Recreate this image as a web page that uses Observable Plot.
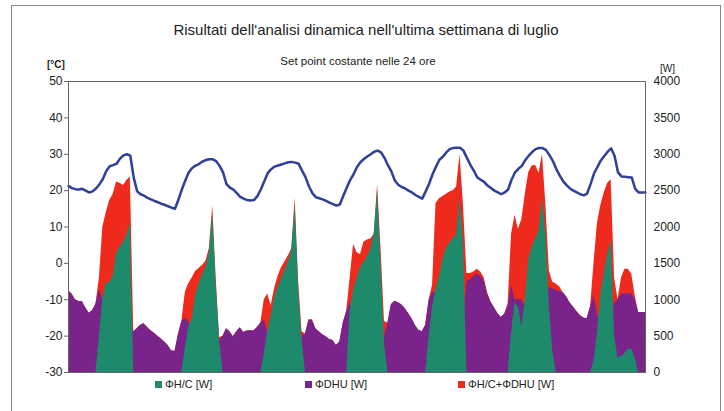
<!DOCTYPE html>
<html><head><meta charset="utf-8">
<script src="https://cdn.jsdelivr.net/npm/d3@7"></script>
<script src="https://cdn.jsdelivr.net/npm/@observablehq/plot@0.6"></script>
<style>
body{margin:0;background:#fff;font-family:"Liberation Sans",Arial,sans-serif;}
#wrap{position:relative;width:724px;height:411px;overflow:hidden;background:#fff;}
#frame{position:absolute;left:11px;top:5px;width:708px;height:430px;border:1px solid #888;}
#chart{position:absolute;left:0;top:0;}
.t{position:absolute;white-space:nowrap;color:#222;line-height:1;}
.sw{display:inline-block;width:7px;height:7px;margin-right:3px;vertical-align:0px;}
</style></head><body>
<div id="wrap">
<div id="frame"></div>
<div id="chart"></div>
<div class="t" style="left:0;width:732px;top:22px;text-align:center;font-size:15px">Risultati dell'analisi dinamica nell'ultima settimana di luglio</div>
<div class="t" style="left:0;width:716px;top:56px;text-align:center;font-size:11.5px">Set point costante nelle 24 ore</div>
<div class="t" style="left:47px;top:60px;font-size:10px;font-weight:bold">[°C]</div>
<div class="t" style="left:660px;top:64px;font-size:10px">[W]</div>
<div class="t" id="legend" style="left:0;top:379px;font-size:11px;width:724px;height:14px"></div>
</div>
<script>
// Hourly data for the last week of July (hour 0..168)
const hours = d3.range(169);

// Indoor temperature [°C] (left axis)
const temperature = [
  21.3,20.7,20.4,20.3,20.5,20.0,19.5,19.8,20.6,21.7,23.2,25.4,26.7,27.0,27.4,28.8,29.7,30.0,29.6,23.5,19.8,19.0,18.6,18.0,
  17.6,17.2,16.8,16.4,16.1,15.7,15.3,15.0,17.5,20.3,22.8,25.0,26.2,26.9,27.3,28.0,28.4,28.6,28.6,28.1,26.8,25.0,21.8,20.8,
  20.3,19.3,18.3,17.8,17.4,17.3,17.4,18.5,20.3,22.6,24.8,25.9,26.6,26.9,27.2,27.5,27.8,27.9,27.7,27.4,25.5,23.7,21.2,19.3,
  18.2,17.9,17.6,17.2,16.7,16.3,15.9,16.2,18.5,20.8,22.9,24.5,26.5,27.8,28.7,29.4,30.0,30.7,31.0,30.5,29.0,27.0,25.3,22.8,
  21.6,21.0,20.6,20.0,19.5,18.8,18.3,17.8,19.8,21.9,24.5,26.6,28.5,29.3,30.5,31.4,31.7,31.8,31.8,31.0,29.0,27.1,25.5,23.7,
  23.0,22.4,21.4,20.7,20.0,19.5,19.0,19.5,20.3,23.0,25.0,26.0,26.8,28.4,29.6,30.6,31.4,31.7,31.7,31.2,29.8,28.2,26.0,24.2,
  22.6,21.5,20.6,20.0,19.5,19.0,18.7,19.2,21.8,24.7,26.5,28.3,29.5,30.7,31.6,29.5,25.0,23.9,23.8,23.7,23.6,20.5,19.5,19.5,19.5
];

// ΦH/C [W]
const phiHC = [
  0,0,0,0,0,0,0,0,0,500,1000,1220,1240,1320,1630,1725,1790,1880,2060,0,0,0,0,0,
  0,0,0,0,0,0,0,0,0,0,330,620,740,1050,1220,1340,1450,1640,2200,1200,450,0,0,0,
  0,0,0,0,0,0,0,0,0,250,560,780,1020,1170,1280,1400,1520,1660,2300,1150,450,0,0,0,
  0,0,0,0,0,0,0,0,0,0,850,1130,1290,1440,1510,1590,1690,1900,2500,1500,400,0,0,0,
  0,0,0,0,0,0,0,0,0,500,900,1140,1310,1550,1700,1780,1830,1900,2400,1750,0,0,0,0,
  0,0,0,0,0,0,0,0,0,550,950,900,630,1000,1550,1720,1830,1950,2400,1900,900,300,0,0,
  0,0,0,0,0,0,0,0,0,150,540,1080,1350,1640,1813,500,200,220,260,320,320,200,0,0,0
];

// ΦDHU [W]
const phiDHU = [
  1124,1078,1000,975,975,890,815,850,940,1140,1000,1000,1000,1000,1000,900,800,750,650,560,600,650,670,620,
  575,540,500,460,420,370,300,290,520,700,750,700,550,400,300,200,150,150,200,300,440,500,600,560,
  490,560,615,550,570,575,572,620,680,720,550,400,300,250,200,150,100,100,100,200,500,530,720,720,
  600,560,520,490,455,440,370,420,680,840,960,600,350,180,280,230,150,100,100,200,500,680,930,980,
  960,930,880,810,740,645,580,560,650,990,1100,1100,1000,900,780,700,670,650,600,700,1250,1270,1320,1354,
  1320,1260,1080,970,890,810,756,800,900,1200,1000,1000,1000,900,800,700,600,600,600,800,1170,1150,1130,1110,
  1100,1040,960,900,840,785,750,740,900,1055,800,700,700,700,800,950,1000,1078,1078,1078,1078,1000,825,825,825
];

// ΦH/C+ΦDHU [W]
const phiTotal = [
  1124,1078,1000,975,975,890,815,850,940,1300,2000,2200,2365,2450,2618,2600,2570,2640,2690,560,600,650,670,620,
  575,540,500,460,420,370,300,290,520,700,1100,1220,1300,1390,1430,1470,1530,1700,2290,1300,480,500,600,560,
  490,560,615,550,570,575,572,620,680,1000,1080,920,1150,1320,1440,1520,1600,1700,2400,1250,560,530,720,720,
  600,560,520,490,455,440,370,420,680,840,1300,1760,1650,1620,1790,1820,1836,1900,2580,1700,700,680,930,980,
  960,930,880,810,740,645,580,560,650,1000,1200,2320,2390,2420,2450,2480,2500,2550,3000,2300,1360,1360,1380,1420,
  1380,1307,1100,970,890,810,756,800,950,1900,2160,1970,2100,2450,2750,2840,2848,2740,3000,2300,1400,1240,1216,1180,
  1100,1040,960,900,840,785,750,740,900,1500,2050,2300,2470,2600,2650,1300,1000,1300,1420,1420,1350,1050,825,825,825
];

const wTicks = [0,500,1000,1500,2000,2500,3000,3500,4000];
const seriesNames = ["ΦH/C [W]", "ΦDHU [W]", "ΦH/C+ΦDHU [W]"];
const seriesColors = ["#1d8a6c", "#7a238b", "#ee2a1c"];
const lineColor = "#2f3f9e";

const rows = hours.map((h, i) => ({h, t: temperature[i], hc: phiHC[i], dhu: phiDHU[i], tot: phiTotal[i]}));
// secondary axis: °C  <->  W  (−30 °C ↔ 0 W, 50 °C ↔ 4000 W)
const cToW = c => (c + 30) * 50;
const wToC = w => w / 50 - 30;

const chart = Plot.plot({
  width: 724, height: 411,
  marginLeft: 68, marginRight: 79, marginTop: 81, marginBottom: 39,
  style: {fontFamily: "'Liberation Sans', Arial, sans-serif", fontSize: "12px", color: "#222", background: "transparent"},
  x: {domain: [0, 168], axis: null},
  y: {domain: [0, 4000], axis: null},
  marks: [
    Plot.areaY(rows, {x: "h", y: "tot", fill: seriesColors[2]}),
    Plot.areaY(rows, {x: "h", y: "dhu", fill: seriesColors[1]}),
    Plot.areaY(rows, {x: "h", y: "hc", fill: seriesColors[0]}),
    Plot.line(rows, {x: "h", y: d => cToW(d.t), stroke: lineColor, strokeWidth: 2.5}),
    Plot.frame({stroke: "#666"}),
    Plot.axisY({anchor: "left", ticks: wTicks, tickFormat: w => String(wToC(w)), tickSize: 4, tickPadding: 2, label: null, stroke: "#666"}),
    Plot.axisY({anchor: "right", ticks: wTicks, tickFormat: w => String(w), tickSize: 0, tickPadding: 8, label: null})
  ]
});
document.getElementById("chart").appendChild(chart);

const legend = document.getElementById("legend");
const legendX = [155, 305, 458];
seriesNames.forEach((name, i) => {
  const s = document.createElement("span");
  s.style.position = "absolute";
  s.style.left = legendX[i] + "px";
  s.innerHTML = `<span class="sw" style="background:${seriesColors[i]}"></span>${name}`;
  legend.appendChild(s);
});
</script>
</body></html>
